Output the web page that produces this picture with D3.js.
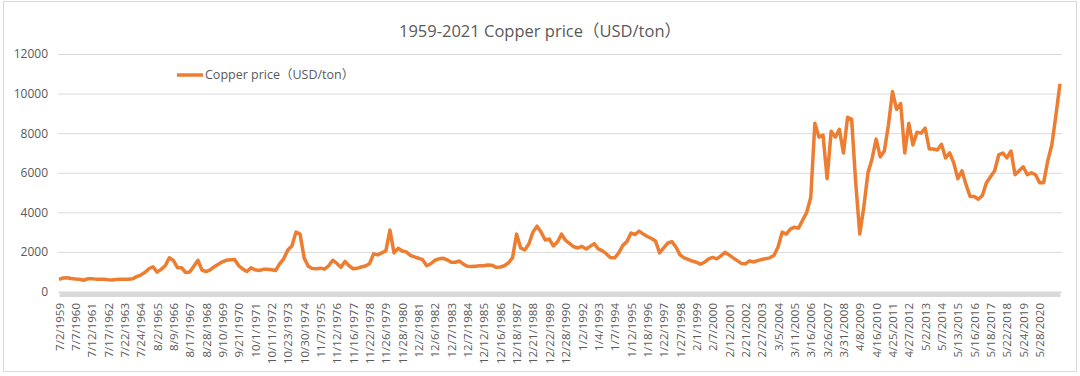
<!DOCTYPE html>
<html>
<head>
<meta charset="utf-8">
<script src="https://cdn.jsdelivr.net/npm/d3@7"></script>
<style>
  body { margin: 0; background: #fff; }
  svg { display: block; }
  text { font-family: "Open Sans", "Noto Sans CJK SC", sans-serif; fill: #595959; }
</style>
</head>
<body>
<div id="chart"></div>
<script>
// tick labels on the category axis (one every 4 readings)
const dateLabels = [
  "7/2/1959","7/7/1960","7/12/1961","7/17/1962","7/22/1963","7/24/1964","8/2/1965","8/9/1966",
  "8/17/1967","8/28/1968","9/10/1969","9/21/1970","10/1/1971","10/11/1972","10/23/1973","10/30/1974",
  "11/7/1975","11/12/1976","11/16/1977","11/22/1978","11/26/1979","11/28/1980","12/2/1981","12/6/1982",
  "12/7/1983","12/7/1984","12/12/1985","12/16/1986","12/18/1987","12/21/1988","12/22/1989","12/28/1990",
  "1/2/1992","1/4/1993","1/7/1994","1/12/1995","1/18/1996","1/22/1997","1/27/1998","2/1/1999",
  "2/7/2000","2/12/2001","2/21/2002","2/27/2003","3/5/2004","3/11/2005","3/16/2006","3/26/2007",
  "3/31/2008","4/8/2009","4/16/2010","4/25/2011","4/27/2012","5/2/2013","5/7/2014","5/13/2015",
  "5/16/2016","5/18/2017","5/22/2018","5/24/2019","5/28/2020"
];
const labelStep = 4;

// copper price, USD/ton
const copperPrice = [
  615,680,690,655,630,620,570,640,645,625,615,615,590,585,605,615,615,615,640,750,
  830,960,1150,1250,980,1120,1300,1700,1570,1200,1200,960,990,1280,1580,1080,1010,1095,1250,1380,
  1500,1580,1600,1620,1300,1130,1010,1200,1095,1060,1120,1120,1095,1060,1400,1650,2100,2300,3000,2900,
  1700,1280,1160,1150,1180,1130,1300,1580,1420,1220,1520,1300,1150,1170,1240,1290,1400,1900,1850,1950,
  2050,3100,1950,2180,2050,2000,1830,1750,1680,1610,1300,1400,1580,1650,1680,1600,1480,1480,1540,1380,
  1270,1260,1280,1300,1300,1340,1330,1220,1240,1300,1450,1700,2900,2200,2100,2400,3000,3300,3000,2600,
  2650,2300,2500,2900,2580,2420,2260,2200,2280,2150,2280,2420,2150,2050,1900,1700,1700,1950,2330,2520,
  2950,2880,3050,2900,2780,2680,2550,1950,2200,2450,2520,2250,1850,1700,1620,1540,1480,1380,1480,1650,
  1720,1650,1800,1980,1850,1700,1560,1420,1400,1550,1490,1560,1620,1660,1700,1830,2250,3000,2900,3150,
  3250,3200,3600,4000,4750,8500,7800,7900,5700,8100,7800,8200,7000,8800,8700,5500,2900,4300,6000,6700,
  7700,6800,7100,8400,10100,9200,9500,7000,8500,7400,8050,8000,8250,7200,7200,7150,7440,6750,7000,6500,
  5700,6100,5400,4800,4800,4660,4850,5500,5800,6100,6900,7000,6750,7100,5900,6100,6300,5900,6000,5900,
  5500,5500,6600,7400,8900,10500
];

const yTicks = [0, 2000, 4000, 6000, 8000, 10000, 12000];
const chartTitle = "1959-2021 Copper price（USD/ton）";
const seriesName = "Copper price（USD/ton）";

const width = 1080, height = 376;
const plot = { left: 59, right: 1060, top: 54, bottom: 291.5 };

let svg = d3.select("#chart").append("svg")
  .attr("width", width)
  .attr("height", height);

// chart frame
svg.append("rect")
  .attr("x", 3.5).attr("y", 1.5)
  .attr("width", 1073).attr("height", 370)
  .attr("fill", "#fff")
  .attr("stroke", "#d9d9d9");

//scales
const xScale = d3.scaleLinear()
  .domain([0, copperPrice.length - 1])
  .range([plot.left, plot.right]);

const yScale = d3.scaleLinear()
  .domain([0, 12000])
  .range([plot.bottom, plot.top]);

//gridlines + y labels
let yAxis = svg.append("g")
  .attr("transform", `translate(${plot.left - 1},0)`)
  .call(d3.axisLeft(yScale)
    .tickValues(yTicks)
    .tickSize(-(plot.right - plot.left + 3))
    .tickPadding(10)
    .tickFormat(d3.format("d")));
yAxis.select(".domain").remove();
yAxis.selectAll(".tick line").attr("stroke", "#d9d9d9");
yAxis.selectAll(".tick text").style("font-size", "12px");

//x axis, the thick grey band
let xAxis = svg.append("g")
  .attr("transform", `translate(0,${plot.bottom + 2.5})`)
  .call(d3.axisBottom(xScale)
    .tickValues(dateLabels.map((d, i) => i * labelStep))
    .tickFormat(d => dateLabels[d / labelStep])
    .tickSize(0)
    .tickSizeOuter(0));
xAxis.select(".domain").attr("stroke", "#d9d9d9").attr("stroke-width", 5);
xAxis.selectAll(".tick text")
  .attr("transform", "rotate(-90)")
  .attr("text-anchor", "end")
  .attr("x", -9)
  .attr("y", 0)
  .attr("dy", "0.35em")
  .style("font-size", "11.5px");

//price line
const line = d3.line()
  .x((d, i) => xScale(i))
  .y(d => yScale(d));

svg.append("path")
  .datum(copperPrice)
  .attr("fill", "none")
  .attr("stroke", "#ED7D31")
  .attr("stroke-width", 3.5)
  .attr("stroke-linejoin", "round")
  .attr("d", line);

//title
svg.append("text")
  .attr("x", 540).attr("y", 37)
  .attr("text-anchor", "middle")
  .style("font-size", "16.5px")
  .text(chartTitle);

//legend
let legend = svg.append("g").attr("transform", "translate(177,75)");
legend.append("line")
  .attr("x1", 0).attr("x2", 26)
  .attr("stroke", "#ED7D31").attr("stroke-width", 3.5);
legend.append("text")
  .attr("x", 28).attr("dy", "0.35em")
  .style("font-size", "12.5px")
  .text(seriesName);
</script>
</body>
</html>
